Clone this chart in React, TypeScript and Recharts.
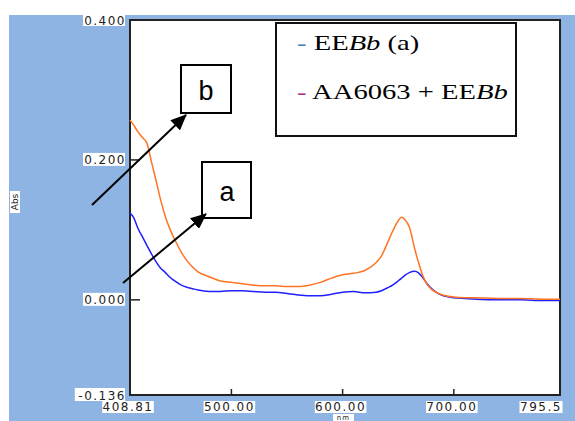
import { LineChart, Line, XAxis, YAxis, CartesianGrid, ReferenceArea, Legend } from 'recharts'

// wavelength (nm) and absorbance
const wavelengths = [
  408.81, 412, 416, 420, 424, 428, 432, 436, 440, 445, 450, 455, 460, 465, 470, 480, 490, 500,
  510, 520, 530, 540, 550, 560, 570, 580, 590, 600, 610, 620, 630, 635, 640, 645, 650, 653, 656,
  660, 665, 668, 672, 676, 680, 685, 690, 700, 710, 720, 740, 760, 780, 795.5,
]
// EEBb (a)
const seriesA = [
  0.124, 0.118, 0.102, 0.09, 0.078, 0.066, 0.055, 0.046, 0.04, 0.032, 0.026, 0.021, 0.018, 0.016,
  0.014, 0.012, 0.012, 0.013, 0.013, 0.012, 0.011, 0.011, 0.009, 0.007, 0.006, 0.006, 0.008, 0.011,
  0.012, 0.01, 0.011, 0.013, 0.017, 0.021, 0.027, 0.031, 0.035, 0.039, 0.041, 0.039, 0.032, 0.023,
  0.016, 0.01, 0.006, 0.003, 0.002, 0.001, 0.0, 0.0, -0.001, -0.001,
]
// AA6063 + EEBb (b)
const seriesB = [
  0.257, 0.25, 0.24, 0.232, 0.224, 0.198, 0.172, 0.145, 0.122, 0.1, 0.083, 0.068, 0.056, 0.047,
  0.04, 0.033, 0.027, 0.025, 0.023, 0.021, 0.02, 0.02, 0.019, 0.019, 0.021, 0.025, 0.031, 0.036,
  0.038, 0.042, 0.053, 0.063, 0.08, 0.098, 0.113, 0.118, 0.115, 0.104, 0.072, 0.055, 0.035, 0.022,
  0.015, 0.01, 0.007, 0.004, 0.003, 0.003, 0.002, 0.002, 0.001, 0.001,
]

const xTicks = [408.81, 500, 600, 700, 795.5]
const xTickLabels = ['408.81', '500.00', '600.00', '700.00', '795.5']
const yTicks = [-0.136, 0, 0.2, 0.4]
const yTickLabels = ['-0.136', '0.000', '0.200', '0.400']

const legendNames = ['EEBb (a)', 'AA6063 + EEBb']
const legendDashColors = ['#4a7fc4', '#a0358c']

const data = wavelengths.map((nm, i) => ({ nm, a: seriesA[i], b: seriesB[i] }))

const tickFont = {
  fontFamily: '"DejaVu Sans", sans-serif',
  fontSize: 12,
  letterSpacing: 1.5,
  fill: '#222',
}

const XTick = (props: any) => {
  const { x, y, index } = props
  const label = xTickLabels[index]
  const w = label.length * 8.6
  const cx = index === xTicks.length - 1 ? x - 19 : x - 2
  const inner = index > 0 && index < xTicks.length - 1
  return (
    <g>
      {inner && <line x1={x} x2={x} y1={y} y2={y - 6} stroke="#222" strokeWidth={1.5} />}
      <rect x={cx - w / 2} y={y + 6} width={w} height={12} fill="#fff" />
      <text x={cx} y={y + 16} textAnchor="middle" style={tickFont}>
        {label}
      </text>
    </g>
  )
}

const YTick = (props: any) => {
  const { x, y, index } = props
  const label = yTickLabels[index]
  const w = label.length * 8.2
  const inner = index === 1 || index === 2
  return (
    <g>
      {inner && <line x1={x} x2={x + 10} y1={y} y2={y} stroke="#222" strokeWidth={1.5} />}
      <rect x={x - 6 - w} y={y - 7} width={w + 1} height={13} fill="#fff" />
      <text x={x - 4} y={y + 4.5} textAnchor="end" style={tickFont}>
        {label}
      </text>
    </g>
  )
}

const LegendBox = () => (
  <div
    style={{
      width: 242,
      height: 115,
      boxSizing: 'border-box',
      border: '2px solid #111',
      background: '#fff',
      position: 'relative',
      fontFamily: '"Liberation Serif", "Times New Roman", serif',
      fontSize: 22,
      lineHeight: '22px',
      color: '#000',
    }}
  >
    {legendNames.map((name, i) => (
      <div
        key={name}
        style={{
          position: 'absolute',
          left: 20,
          top: 8 + i * 49,
          whiteSpace: 'nowrap',
          transform: 'scaleX(1.3)',
          transformOrigin: 'left top',
        }}
      >
        <span style={{ color: legendDashColors[i] }}>- </span>
        {i === 0 ? (
          <>
            EE<i>Bb</i> (a)
          </>
        ) : (
          <>
            AA6063 + EE<i>Bb</i>
          </>
        )}
      </div>
    ))}
  </div>
)

export default function App() {
  return (
    <div style={{ position: 'absolute', left: 0, top: 0, width: 575, height: 421, background: '#fff', overflow: 'hidden' }}>
      <div style={{ position: 'absolute', left: 9, top: 15, width: 566, height: 406, background: '#8eb4e3' }} />
      <div style={{ position: 'absolute', left: 0, top: 0 }}>
        <LineChart width={575} height={421} data={data} margin={{ top: 20, right: 15, bottom: 0, left: 0 }}>
          <CartesianGrid horizontal={false} vertical={false} fill="#fff" />
          <XAxis
            dataKey="nm"
            type="number"
            domain={[408.81, 795.5]}
            ticks={xTicks}
            interval={0}
            height={26}
            tickSize={0}
            tickMargin={0}
            axisLine={false}
            tickLine={false}
            tick={<XTick />}
          />
          <YAxis
            type="number"
            domain={[-0.136, 0.4]}
            ticks={yTicks}
            interval={0}
            width={130}
            tickSize={0}
            tickMargin={0}
            axisLine={false}
            tickLine={false}
            tick={<YTick />}
          />
          <ReferenceArea
            x1={408.81}
            x2={795.5}
            y1={-0.136}
            y2={0.4}
            fill="none"
            stroke="#222"
            strokeWidth={2}
          />
          <Legend
            layout="vertical"
            align="center"
            verticalAlign="middle"
            wrapperStyle={{ left: 275, top: 22, width: 242, height: 115 }}
            content={<LegendBox />}
          />
          <Line
            type="monotone"
            dataKey="a"
            name={legendNames[0]}
            stroke="#1f1fff"
            strokeWidth={1.5}
            dot={false}
            isAnimationActive={false}
          />
          <Line
            type="monotone"
            dataKey="b"
            name={legendNames[1]}
            stroke="#ff7424"
            strokeWidth={1.5}
            dot={false}
            isAnimationActive={false}
          />
        </LineChart>
      </div>
      <svg width={575} height={421} style={{ position: 'absolute', left: 0, top: 0, pointerEvents: 'none' }}>
        <defs>
          <marker id="head" markerWidth="8" markerHeight="7" refX="7.5" refY="3.5" orient="auto" markerUnits="strokeWidth">
            <path d="M0,0 L8,3.5 L0,7 z" fill="#000" />
          </marker>
        </defs>
        {/* annotation boxes */}
        <rect x={181} y={65} width={50} height={48} fill="#fff" stroke="#000" strokeWidth={2} />
        <text x={206} y={100} textAnchor="middle" style={{ fontFamily: '"Liberation Sans", Arial, sans-serif', fontSize: 27 }}>
          b
        </text>
        <rect x={202} y={162} width={49} height={56} fill="#fff" stroke="#000" strokeWidth={2} />
        <text x={227} y={201} textAnchor="middle" style={{ fontFamily: '"Liberation Sans", Arial, sans-serif', fontSize: 27 }}>
          a
        </text>
        <line x1={92} y1={205} x2={186} y2={115} stroke="#000" strokeWidth={2} markerEnd="url(#head)" />
        <line x1={123} y1={283} x2={206} y2={214} stroke="#000" strokeWidth={2} markerEnd="url(#head)" />
        {/* axis titles */}
        <rect x={10} y={191} width={10} height={22} fill="#fff" />
        <text
          x={0}
          y={0}
          transform="translate(18 202) rotate(-90)"
          textAnchor="middle"
          style={{ fontFamily: '"DejaVu Sans", sans-serif', fontSize: 9, fill: '#222' }}
        >
          Abs
        </text>
        <rect x={333} y={414} width={21} height={7} fill="#fff" />
        <text
          x={343.5}
          y={419.5}
          textAnchor="middle"
          style={{ fontFamily: '"DejaVu Sans", sans-serif', fontSize: 7, letterSpacing: 1, fill: '#222' }}
        >
          nm
        </text>
      </svg>
    </div>
  )
}
